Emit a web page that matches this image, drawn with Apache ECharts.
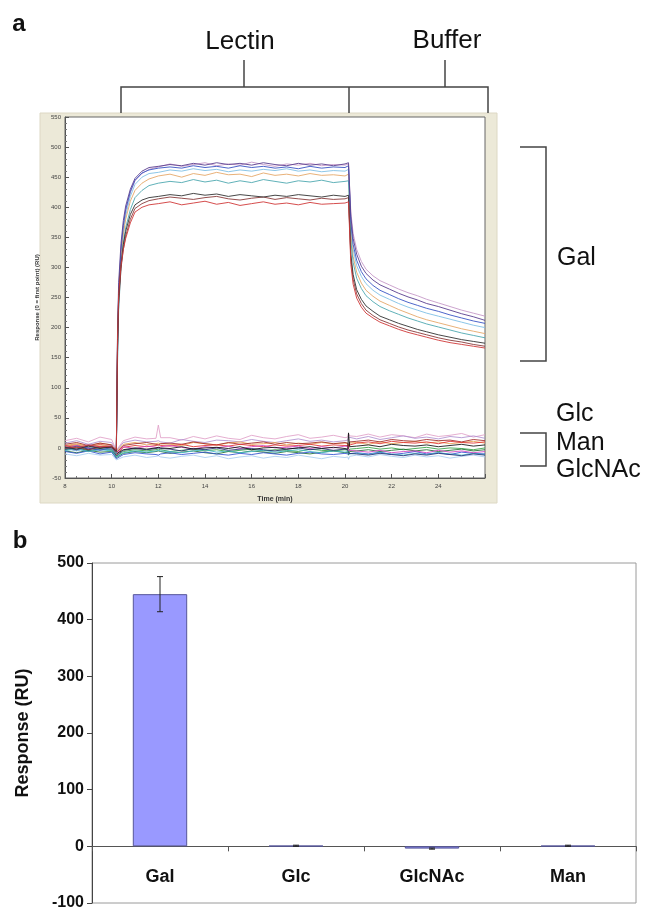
<!DOCTYPE html>
<html>
<head>
<meta charset="utf-8">
<script src="https://cdn.jsdelivr.net/npm/echarts@6/dist/echarts.min.js"></script>
<style>
html,body{margin:0;padding:0;background:#fff;}
#c{width:650px;height:910px;}
</style>
</head>
<body>
<div id="c"></div>
<script>
// ---------- Panel a: sensorgram data ----------
const timeGal = [8, 8.5, 9, 9.5, 10, 10.2, 10.25, 10.3, 10.4, 10.5, 10.6, 10.8, 11, 11.3, 11.6,
  12, 12.5, 13, 13.5, 14, 14.5, 15, 15.5, 16, 16.5, 17, 17.5, 18, 18.5, 19, 19.5, 20,
  20.15, 20.25, 20.35, 20.5, 20.7, 20.9, 21.2, 21.5, 21.9, 22.3, 22.7, 23.1, 23.5, 24, 24.5, 25, 25.5, 26];

const galPurple = [2,-3,4,0,3, -4,190,275,340,378,402,430,448,460,466,
  468,471,469,473,470,474,471,473,470,474,471,469,473,470,472,469,472,
  474, 385,348,322,302,290,279,271,264,257,251,246,240,235,229,223,218,212];
const galBlue = [-2,3,0,-4,1, -6,175,262,330,370,396,426,445,457,462,
  465,467,465,469,466,468,465,469,466,468,465,467,464,468,465,467,466,
  469, 375,338,312,293,281,270,262,255,248,242,237,232,227,221,216,211,207];
const galPink = [5,1,6,2,4, -3,160,250,322,365,392,424,444,456,463,
  467,472,468,471,474,469,472,470,475,471,468,472,470,473,469,471,470,
  472, 392,356,330,310,297,286,278,271,264,258,253,247,241,235,229,224,219];
const galSky = [0,-5,2,-2,-1, -8,150,240,315,358,386,418,438,450,456,
  458,462,460,464,461,463,459,462,460,463,461,464,460,462,459,461,460,
  463, 368,330,303,285,273,262,254,247,240,234,229,224,219,214,209,204,200];
const galOrange = [3,6,1,5,2, -2,165,255,318,355,380,410,428,440,447,
  452,455,450,456,453,458,454,455,451,457,453,455,452,456,453,454,452,
  455, 355,318,292,274,262,252,244,237,230,224,218,213,208,203,198,194,190];
const galTeal = [-4,-1,-6,-2,-3, -10,140,230,300,340,366,396,416,428,436,
  440,443,441,446,442,445,440,444,441,446,443,440,444,442,445,441,443,
  444, 345,308,282,265,253,243,235,228,222,216,211,206,201,196,191,187,183];
const galBlack = [1,-2,3,-1,2, -5,170,250,305,338,360,388,404,412,416,
  418,421,419,423,420,422,418,421,419,417,420,418,421,419,417,420,418,
  420, 322,288,263,247,236,227,219,213,207,202,197,193,188,184,180,177,174];
const galBrown = [-1,2,-3,1,0, -7,160,240,298,330,352,380,398,406,411,
  414,417,415,413,416,418,414,412,415,417,413,416,414,412,415,413,414,
  416, 315,280,256,240,229,220,213,207,201,196,192,188,183,179,176,172,169];
const galRed = [4,0,5,2,3, -3,180,255,303,330,348,374,392,400,404,
  406,409,404,407,410,405,408,403,406,409,405,407,404,408,405,406,407,
  409, 305,272,249,234,224,216,209,203,197,192,188,184,179,175,172,169,166];

const timeBase = [8, 8.5, 9, 9.5, 10, 10.2, 10.5, 11, 11.5, 11.9, 12, 12.1, 12.5, 13, 13.5, 14, 14.5, 15, 15.5,
  16, 16.5, 17, 17.5, 18, 18.5, 19, 19.5, 20, 20.12, 20.15, 20.2, 20.5, 21, 21.5, 22, 22.5, 23, 23.5, 24, 24.5, 25, 25.5, 26];

const basePink = [12,16,10,18,14,-4,12,18,15,16,38,17,17,13,19,15,20,16,14,21,17,15,19,22,16,18,21,17,18,24,20,19,23,18,22,20,17,23,19,21,24,18,22];
const baseDarkRed = [6,9,4,8,5,-8,4,7,9,6,5,7,8,6,10,7,5,9,6,8,10,6,9,7,8,10,7,9,8,-2,10,11,13,10,14,12,11,14,12,13,10,14,12];
const baseRed = [3,5,1,6,2,-12,1,4,2,4,5,4,3,6,2,4,5,3,6,4,2,5,3,4,6,3,5,4,4,6,7,8,10,7,11,9,8,10,7,11,9,8,10];
const baseBlack = [-2,1,-3,2,0,-10,-3,0,-2,0,1,0,-1,2,-2,0,1,-1,2,-3,0,1,-2,0,2,-1,1,-1,-2,25,2,3,5,2,6,4,3,5,2,4,6,3,5];
const baseGreen = [-3,0,-5,-1,-4,-14,-6,-3,-5,-3,-2,-3,-6,-4,-2,-5,-3,-6,-4,-2,-5,-3,-4,-6,-2,-4,-5,-3,-4,-8,-2,-1,1,-2,0,-3,-1,1,-2,0,-1,-3,0];
const baseDarkGreen = [-5,-8,-4,-7,-6,-16,-9,-6,-8,-6,-5,-6,-9,-7,-5,-8,-10,-6,-8,-5,-7,-9,-6,-8,-10,-7,-5,-8,-7,-12,-6,-5,-3,-6,-4,-2,-5,-3,-6,-4,-2,-5,-3];
const baseBlue = [-6,-9,-5,-10,-7,-18,-11,-8,-10,-11,-12,-10,-8,-11,-9,-7,-10,-12,-9,-11,-8,-10,-12,-9,-7,-10,-11,-9,-10,-13,-9,-8,-10,-7,-11,-9,-6,-10,-8,-11,-7,-9,-10];
const baseLightBlue = [-10,-13,-9,-12,-11,-20,-15,-12,-16,-14,-13,-15,-17,-14,-12,-16,-13,-18,-15,-13,-17,-14,-16,-12,-15,-18,-14,-16,-15,-19,-14,-12,-15,-11,-14,-16,-12,-15,-13,-17,-14,-12,-15];
const baseMagenta = [1,4,-1,3,0,-9,2,-1,3,1,0,2,4,1,-2,2,0,3,-1,2,4,0,1,3,-1,2,0,3,2,-4,-5,-5,-7,-4,-8,-6,-5,-8,-4,-7,-5,-8,-6];
const baseCyan = [-4,-2,-6,-3,-5,-15,-8,-5,-7,-5,-4,-5,-6,-8,-5,-3,-7,-5,-8,-6,-4,-7,-5,-3,-6,-8,-5,-7,-6,-10,-9,-9,-11,-8,-10,-12,-9,-11,-8,-10,-12,-9,-11];
const baseOrange = [4,7,3,8,5,-6,6,9,5,7,8,7,6,4,9,7,5,8,10,6,7,9,5,8,6,9,7,8,7,3,8,9,6,10,7,9,11,8,10,7,9,11,8];
const baseLavender = [8,12,6,11,9,-5,9,13,10,11,12,10,8,14,11,9,13,12,10,14,11,9,12,15,11,13,10,12,13,18,16,15,19,14,17,20,16,18,15,19,17,20,16];
const baseNavy = [-1,-4,0,-3,-2,-13,-4,-1,-3,-1,0,-1,-2,-5,-1,-3,0,-4,-2,-1,-3,-5,-2,0,-3,-1,-4,-2,-3,-9,-10,-10,-12,-9,-11,-13,-10,-12,-9,-11,-13,-10,-12];

const xTicksA = [8, 10, 12, 14, 16, 18, 20, 22, 24];

// ---------- Panel b: bar data ----------
const sugars = ['Gal', 'Glc', 'GlcNAc', 'Man'];
const response = [445, 1, -4, 1];
const responseErr = [31, 1, 1, 1];

// ---------- build ----------
const FONT = '"Liberation Sans", Arial, Helvetica, sans-serif';

const galList = [
  [galPink, '#c79ac9'], [galSky, '#7fc0e6'], [galOrange, '#e6a86a'], [galTeal, '#4fa9b0'],
  [galBlue, '#3a55c4'], [galPurple, '#5b3f8f'], [galBrown, '#8a3b3b'], [galBlack, '#333333'], [galRed, '#d03a3a']
];
const baseList = [
  [basePink, '#e0a0c8'], [baseLavender, '#b090d0'], [baseLightBlue, '#a8ccf0'], [baseOrange, '#e8a050'],
  [baseDarkRed, '#a02828'], [baseRed, '#e03030'], [baseGreen, '#30a040'], [baseDarkGreen, '#1f6f2f'],
  [baseBlue, '#3050d0'], [baseCyan, '#40b8c8'], [baseMagenta, '#d040c0'], [baseNavy, '#283078'], [baseBlack, '#111111']
];

const series = [];
baseList.forEach(([vals, color]) => {
  series.push({
    type: 'line', xAxisIndex: 0, yAxisIndex: 0, showSymbol: false, silent: true,
    data: timeBase.map((t, i) => [t, vals[i]]),
    lineStyle: { width: 1, color: color, opacity: 0.85 }, z: 2
  });
});
galList.forEach(([vals, color]) => {
  series.push({
    type: 'line', xAxisIndex: 0, yAxisIndex: 0, showSymbol: false, silent: true,
    data: timeGal.map((t, i) => [t, vals[i]]),
    lineStyle: { width: 1, color: color, opacity: 0.9 }, z: 3
  });
});
series.push({
  type: 'bar', xAxisIndex: 1, yAxisIndex: 1, data: response, barWidth: '40%',
  itemStyle: { color: '#9999ff', borderColor: '#55559a', borderWidth: 1 }, z: 3
});
series.push({
  type: 'custom', xAxisIndex: 1, yAxisIndex: 1, z: 4,
  data: response.map((v, i) => [i, v - responseErr[i], v + responseErr[i]]),
  renderItem: function (params, api) {
    const lo = api.coord([api.value(0), api.value(1)]);
    const hi = api.coord([api.value(0), api.value(2)]);
    const x = lo[0], w = 3;
    const st = { stroke: '#222', lineWidth: 1 };
    return {
      type: 'group', children: [
        { type: 'line', shape: { x1: x, y1: lo[1], x2: x, y2: hi[1] }, style: st },
        { type: 'line', shape: { x1: x - w, y1: lo[1], x2: x + w, y2: lo[1] }, style: st },
        { type: 'line', shape: { x1: x - w, y1: hi[1], x2: x + w, y2: hi[1] }, style: st }
      ]
    };
  }
});

function txt(text, x, y, size, opts) {
  opts = opts || {};
  return {
    type: 'text', z: 20, silent: true,
    style: {
      text: text, x: x, y: y, fill: opts.fill || '#111',
      font: (opts.bold ? 'bold ' : '') + size + 'px ' + FONT,
      align: opts.align || 'center', verticalAlign: 'middle'
    }
  };
}
function pl(points) {
  return { type: 'polyline', z: 20, silent: true, shape: { points: points },
    style: { stroke: '#444', lineWidth: 1.5, fill: null } };
}

const chart = echarts.init(document.getElementById('c'), null, { renderer: 'canvas' });
chart.setOption({
  animation: false,
  backgroundColor: '#ffffff',
  grid: [
    { left: 65, top: 117, width: 420, height: 361, show: true, backgroundColor: '#ffffff',
      borderColor: '#666', borderWidth: 1, containLabel: false, outerBoundsMode: 'none' },
    { left: 92, top: 563, width: 544, height: 340, show: true, backgroundColor: '#ffffff',
      borderColor: '#9a9a9a', borderWidth: 1, containLabel: false, outerBoundsMode: 'none' }
  ],
  xAxis: [
    { type: 'value', gridIndex: 0, min: 8, max: 26, interval: 2,
      axisLine: { onZero: false, lineStyle: { color: '#555' } },
      axisTick: { inside: true, length: 4, lineStyle: { color: '#555' } },
      minorTick: { show: true, splitNumber: 4, length: 2, lineStyle: { color: '#777' } },
      splitLine: { show: false },
      axisLabel: { fontSize: 6, color: '#444', margin: 5, fontFamily: FONT,
        formatter: v => (xTicksA.indexOf(v) >= 0 ? String(v) : '') },
      name: 'Time (min)', nameLocation: 'middle', nameGap: 18,
      nameTextStyle: { fontSize: 7, fontWeight: 'bold', color: '#333', fontFamily: FONT } },
    { type: 'category', gridIndex: 1, data: sugars,
      axisLine: { onZero: true, lineStyle: { color: '#555', width: 1 } },
      axisTick: { show: true, alignWithLabel: false, length: 5, lineStyle: { color: '#555' } },
      axisLabel: { fontSize: 18, fontWeight: 'bold', color: '#111', margin: -35, fontFamily: FONT },
      splitLine: { show: false } }
  ],
  yAxis: [
    { type: 'value', gridIndex: 0, min: -50, max: 550, interval: 50,
      axisLine: { show: true, lineStyle: { color: '#555' } },
      axisTick: { show: true, inside: true, length: 4, lineStyle: { color: '#555' } },
      minorTick: { show: true, splitNumber: 5, length: 2, lineStyle: { color: '#777' } },
      splitLine: { show: false },
      axisLabel: { fontSize: 6, color: '#444', margin: 4, fontFamily: FONT },
      name: 'Response (0 = first point) (RU)', nameLocation: 'middle', nameGap: 9,
      nameTextStyle: { fontSize: 6, fontWeight: 'bold', color: '#333', fontFamily: FONT } },
    { type: 'value', gridIndex: 1, min: -100, max: 500, interval: 100,
      axisLine: { show: true, lineStyle: { color: '#444' } },
      axisTick: { show: true, inside: false, length: 5, lineStyle: { color: '#444' } },
      splitLine: { show: false },
      axisLabel: { fontSize: 16, fontWeight: 'bold', color: '#111', margin: 8, fontFamily: FONT },
      name: 'Response (RU)', nameLocation: 'middle', nameGap: 60,
      nameTextStyle: { fontSize: 18, fontWeight: 'bold', color: '#111', fontFamily: FONT } }
  ],
  series: series,
  graphic: [
    { type: 'rect', z: -10, silent: true, shape: { x: 40, y: 113, width: 457, height: 390 },
      style: { fill: '#ece9d8', stroke: '#ddd8c4' } },
    txt('a', 19, 24, 24, { bold: true }),
    txt('b', 20, 541, 24, { bold: true }),
    txt('Lectin', 240, 42, 26),
    txt('Buffer', 447, 41, 26),
    pl([[121, 113], [121, 87], [488, 87], [488, 113]]),
    pl([[349, 87], [349, 113]]),
    pl([[244, 87], [244, 60]]),
    pl([[445, 87], [445, 60]]),
    pl([[520, 147], [546, 147], [546, 361], [520, 361]]),
    txt('Gal', 557, 258, 25, { align: 'left' }),
    pl([[520, 433], [546, 433], [546, 466], [520, 466]]),
    txt('Glc', 556, 414, 25, { align: 'left' }),
    txt('Man', 556, 443, 25, { align: 'left' }),
    txt('GlcNAc', 556, 470, 25, { align: 'left' })
  ]
});
</script>
</body>
</html>
